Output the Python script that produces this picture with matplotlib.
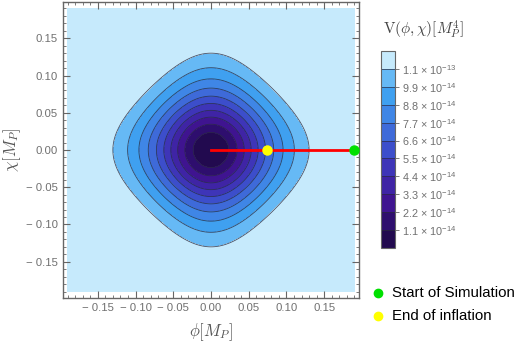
import numpy as np
import matplotlib
matplotlib.use("Agg")
import matplotlib.pyplot as plt
from matplotlib.ticker import FixedLocator, FixedFormatter, MultipleLocator
from matplotlib.lines import Line2D

plt.rcParams['font.family'] = ['Liberation Sans', 'DejaVu Sans']
plt.rcParams['mathtext.fontset'] = 'custom'
plt.rcParams['mathtext.rm'] = 'Liberation Sans'
plt.rcParams['mathtext.it'] = 'Liberation Sans:italic'
plt.rcParams['mathtext.bf'] = 'Liberation Sans:bold'

# ---- data ----
level_values = [1.1e-14, 2.2e-14, 3.3e-14, 4.4e-14, 5.5e-14, 6.6e-14,
                7.7e-14, 8.8e-14, 9.9e-14, 1.1e-13]
level_labels = [r'1.1 $\times$ 10$^{-14}$', r'2.2 $\times$ 10$^{-14}$',
                r'3.3 $\times$ 10$^{-14}$', r'4.4 $\times$ 10$^{-14}$',
                r'5.5 $\times$ 10$^{-14}$', r'6.6 $\times$ 10$^{-14}$',
                r'7.7 $\times$ 10$^{-14}$', r'8.8 $\times$ 10$^{-14}$',
                r'9.9 $\times$ 10$^{-14}$', r'1.1 $\times$ 10$^{-13}$']
band_colors = ['#220a4f', '#2e0e6e', '#3f1490', '#3f24a5', '#3e35b8',
               '#3c4ecb', '#3e6ad9', '#3f86e6', '#3fa0f0', '#66b9f5', '#c6eafc']
V_max = 1.379e-13      # plateau height of potential
mass_scale = 0.057     # width scale [M_P]
field_range = 0.19
traj_phi = [0.0, 0.19]
traj_chi = [0.0, 0.0]
start_point = (0.19, 0.0)
end_point = (0.0742, 0.0)
tick_vals = [-0.15, -0.10, -0.05, 0.0, 0.05, 0.10, 0.15]
tick_labels = ['\u2212 0.15', '\u2212 0.10', '\u2212 0.05', '0.00', '0.05', '0.10', '0.15']

# ---- figure ----
fig = plt.figure(figsize=(5.21, 3.44), dpi=100)
ax = fig.add_axes([0.1203, 0.1337, 0.5693, 0.8605])

phi = np.linspace(-field_range, field_range, 500)
chi = np.linspace(-field_range, field_range, 500)
P, C = np.meshgrid(phi, chi)
V = V_max * (1 - 1.0 / (np.cosh(P / mass_scale) * np.cosh(C / mass_scale)))

levels = [0.0] + level_values + [V_max * 1.01]
cf = ax.contourf(P, C, V, levels=levels, colors=band_colors)
cl = ax.contour(P, C, V, levels=level_values, colors='#2a2a40', linewidths=0.6, alpha=0.8)

ax.plot(traj_phi, traj_chi, color='#ff0000', lw=2, zorder=3)
ax.plot(*start_point, 'o', color='#00e000', ms=6.5, zorder=4, clip_on=False)
ax.plot(*end_point, 'o', color='#ffff00', ms=6.5, zorder=4)

ax.set_xlim(-0.1965, 0.1965)
ax.set_ylim(-0.1987, 0.1987)

gray = '#666666'
for axis in (ax.xaxis, ax.yaxis):
    axis.set_major_locator(FixedLocator(tick_vals))
    axis.set_major_formatter(FixedFormatter(tick_labels))
    axis.set_minor_locator(MultipleLocator(0.01))
ax.tick_params(which='both', direction='in', top=True, right=True, color=gray,
               labelcolor='#707070', labelsize=8.2)
ax.tick_params(which='major', length=5, width=0.8)
ax.tick_params(which='minor', length=2.5, width=0.6)
for s in ax.spines.values():
    s.set_color(gray)
    s.set_linewidth(1.0)

ax.set_xlabel(r'$\phi[M_P]$', fontsize=12, color='#555555', labelpad=6, math_fontfamily='cm')
ax.set_ylabel(r'$\chi[M_P]$', fontsize=12, color='#555555', labelpad=2, math_fontfamily='cm')

# colorbar
cax = fig.add_axes([0.7313, 0.279, 0.0269, 0.5727])
cb = fig.colorbar(cf, cax=cax, spacing='uniform')
cb.add_lines(cl)
cb.set_ticks(level_values)
cb.set_ticklabels(level_labels)
cb.ax.tick_params(labelsize=7.8, labelcolor='#707070', color=gray, length=3, width=0.6, pad=2)
cb.outline.set_edgecolor(gray)
cb.outline.set_linewidth(0.8)
fig.text(0.735, 0.912, r'$\mathrm{V}(\phi,\chi)[M_P^4]$', fontsize=11, color='#444444',
         ha='left', va='center', math_fontfamily='cm')

# legend
fig.add_artist(Line2D([378 / 521], [1 - 293 / 344], marker='o', color='#00e000', ms=6, lw=0,
                      transform=fig.transFigure))
fig.add_artist(Line2D([378 / 521], [1 - 316 / 344], marker='o', color='#ffff00', ms=6, lw=0,
                      transform=fig.transFigure))
fig.text(392 / 521, 1 - 293 / 344, 'Start of Simulation', fontsize=10.8, va='center', ha='left')
fig.text(392 / 521, 1 - 316 / 344, 'End of inflation', fontsize=10.8, va='center', ha='left')

fig.savefig('out.png', dpi=100)
